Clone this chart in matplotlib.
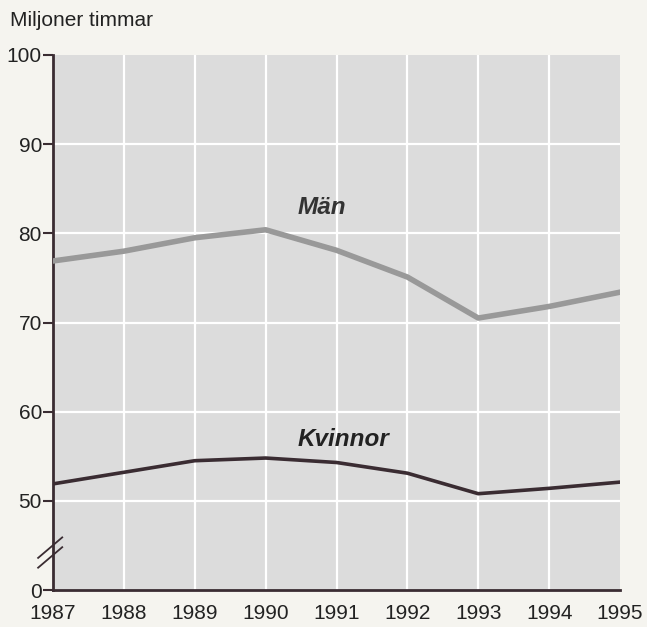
import matplotlib
matplotlib.use("Agg")
import matplotlib.pyplot as plt

years = [1987, 1988, 1989, 1990, 1991, 1992, 1993, 1994, 1995]
man = [76.9, 78.0, 79.5, 80.4, 78.1, 75.1, 70.5, 71.8, 73.4]
kvinnor = [51.9, 53.2, 54.5, 54.8, 54.3, 53.1, 50.8, 51.4, 52.1]
ytick_pos = [40, 50, 60, 70, 80, 90, 100]
ytick_labels = ["0", "50", "60", "70", "80", "90", "100"]

plt.rcParams['font.family'] = ['Liberation Sans', 'DejaVu Sans']
bg = "#f5f4ef"
fig = plt.figure(figsize=(6.47, 6.27), dpi=100, facecolor=bg)
ax = fig.add_axes([53/647, 37/627, 567/647, 535/627])
ax.set_facecolor("#dcdcdc")

ax.set_xlim(1987, 1995)
ax.set_ylim(40, 100)

for y in ytick_pos[1:-1]:
    ax.axhline(y, color="white", lw=1.6, zorder=1)
for x in years[1:-1]:
    ax.axvline(x, color="white", lw=1.6, zorder=1)

ax.plot(years, man, color="#999999", lw=4, zorder=3, solid_joinstyle="round")
ax.plot(years, kvinnor, color="#3a2c32", lw=2.6, zorder=3, solid_joinstyle="round")

ax.text(1990.79, 82.85, "Män", fontsize=17.5, fontweight="bold", fontstyle="italic",
        color="#333333", ha="center", va="center")
ax.text(1991.1, 56.9, "Kvinnor", fontsize=17.5, fontweight="bold", fontstyle="italic",
        color="#222222", ha="center", va="center")

for s in ["top", "right"]:
    ax.spines[s].set_visible(False)
for s in ["left", "bottom"]:
    ax.spines[s].set_color("#3a2c32")
    ax.spines[s].set_linewidth(2)

ax.set_yticks(ytick_pos)
ax.set_yticklabels(ytick_labels)
ax.set_xticks(years)
ax.set_xticklabels([str(y) for y in years])
ax.tick_params(axis="y", length=7, width=1.5, color="#3a2c32", labelsize=15,
               labelcolor="#222222", pad=1)
ax.tick_params(axis="x", length=0, labelsize=15, labelcolor="#222222", pad=10)

# axis break marks
for dy in (0, 1.1):
    ax.plot([1987 - 0.21, 1987 + 0.13], [42.5 + dy, 44.8 + dy], color="#3a2c32", lw=1.3,
            clip_on=False, zorder=5)

fig.text(10/647, 1 - 20/627, "Miljoner timmar", fontsize=15, color="#222222",
         ha="left", va="center")

fig.savefig("out.png", dpi=100, facecolor=bg)
